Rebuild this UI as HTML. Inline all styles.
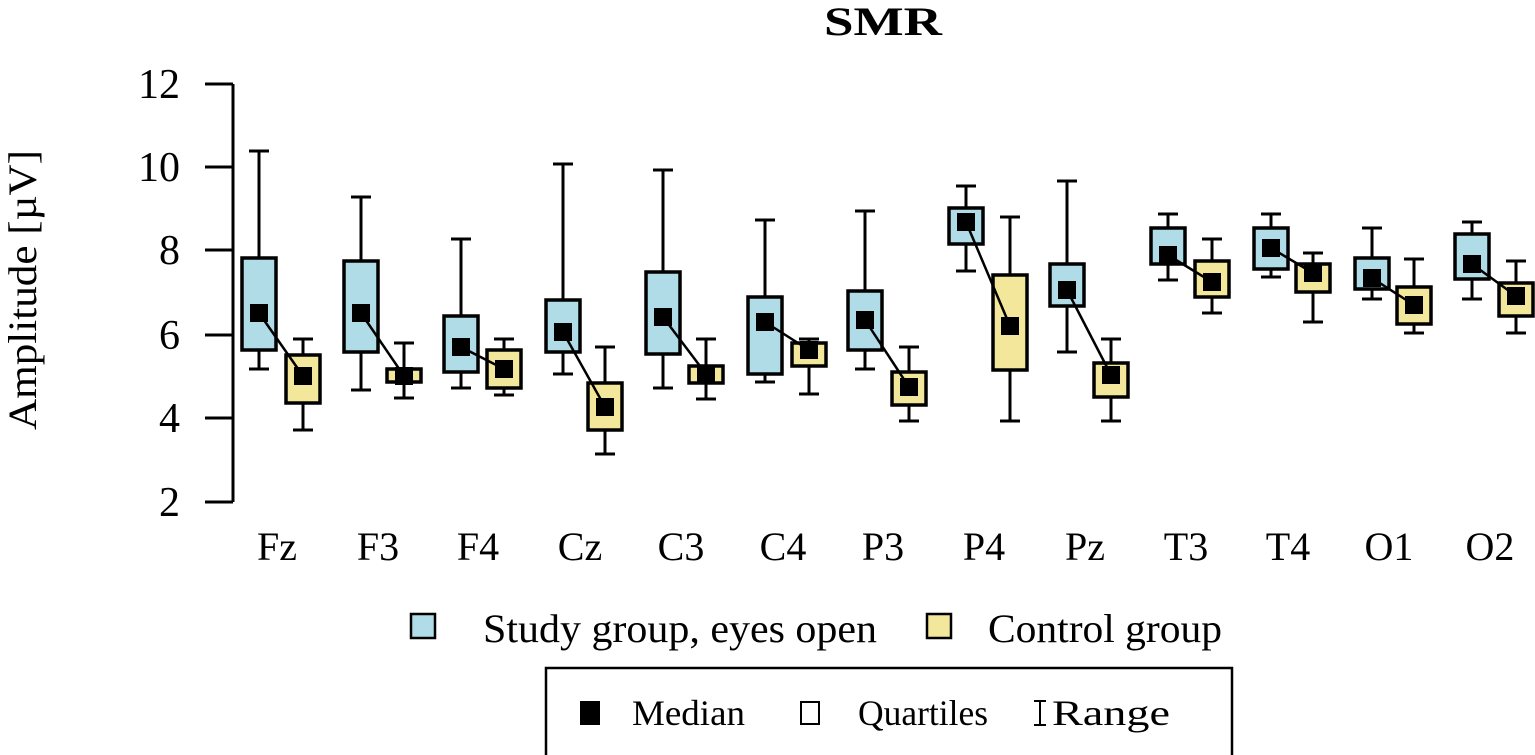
<!DOCTYPE html>
<html><head><meta charset="utf-8"><style>
html,body{margin:0;padding:0;background:#fff;}
svg{display:block;font-family:"Liberation Serif",serif;}
</style></head><body>
<svg width="1535" height="755" viewBox="0 0 1535 755" xmlns="http://www.w3.org/2000/svg">
<text x="883" y="35" font-size="40" font-weight="bold" text-anchor="middle" textLength="118" lengthAdjust="spacingAndGlyphs">SMR</text>
<g stroke="#000" stroke-width="3" fill="none">
<path d="M233 84V502M205 84H233M205 167H233M205 250H233M205 335H233M205 418H233M205 502H233"/>
</g>
<g font-size="42" text-anchor="end">
<text x="180" y="98">12</text><text x="180" y="181">10</text><text x="180" y="264">8</text>
<text x="180" y="349">6</text><text x="180" y="432">4</text><text x="180" y="516">2</text>
</g>
<text transform="translate(36,290) rotate(-90)" font-size="40" text-anchor="middle" textLength="280" lengthAdjust="spacingAndGlyphs">Amplitude [µV]</text>

<g stroke="#000" stroke-width="3" fill="none">
<path d="M259 151V369M249 151H269M249 369H269 M303 339V430M293 339H313M293 430H313"/>
<path d="M361 197V390M351 197H371M351 390H371 M404 343V398M394 343H414M394 398H414"/>
<path d="M461 239V388M451 239H471M451 388H471 M504 339V395M494 339H514M494 395H514"/>
<path d="M563 164V374M553 164H573M553 374H573 M605 347V454M595 347H615M595 454H615"/>
<path d="M663 170V388M653 170H673M653 388H673 M706 339V399M696 339H716M696 399H716"/>
<path d="M765 220V382M755 220H775M755 382H775 M809 339V394M799 339H819M799 394H819"/>
<path d="M865 211V369M855 211H875M855 369H875 M909 347V421M899 347H919M899 421H919"/>
<path d="M966 186V271M956 186H976M956 271H976 M1010 217V421M1000 217H1020M1000 421H1020"/>
<path d="M1067 181V352M1057 181H1077M1057 352H1077 M1111 339V421M1101 339H1121M1101 421H1121"/>
<path d="M1168 214V280M1158 214H1178M1158 280H1178 M1212 239V313M1202 239H1222M1202 313H1222"/>
<path d="M1271 214V277M1261 214H1281M1261 277H1281 M1313 253V322M1303 253H1323M1303 322H1323"/>
<path d="M1372 228V299M1362 228H1382M1362 299H1382 M1414 259V333M1404 259H1424M1404 333H1424"/>
<path d="M1472 222V299M1462 222H1482M1462 299H1482 M1516 261V333M1506 261H1526M1506 333H1526"/>
</g>
<g stroke="#000" stroke-width="3.5" fill="#b0dce8">
<rect x="242" y="258" width="34" height="92"/>
<rect x="344" y="261" width="34" height="91"/>
<rect x="444" y="316" width="34" height="56"/>
<rect x="546" y="300" width="34" height="52"/>
<rect x="646" y="272" width="34" height="82"/>
<rect x="748" y="297" width="34" height="77"/>
<rect x="848" y="291" width="34" height="59"/>
<rect x="949" y="208" width="34" height="36"/>
<rect x="1050" y="264" width="34" height="42"/>
<rect x="1151" y="228" width="34" height="36"/>
<rect x="1254" y="228" width="34" height="41"/>
<rect x="1355" y="258" width="34" height="31"/>
<rect x="1455" y="234" width="34" height="45"/>
</g>
<g stroke="#000" stroke-width="3.5" fill="#f3e79c">
<rect x="286" y="355" width="34" height="48"/>
<rect x="387" y="369" width="34" height="13"/>
<rect x="487" y="350" width="34" height="38"/>
<rect x="588" y="383" width="34" height="47"/>
<rect x="689" y="366" width="34" height="17"/>
<rect x="792" y="343" width="34" height="23"/>
<rect x="892" y="372" width="34" height="33"/>
<rect x="993" y="275" width="34" height="95"/>
<rect x="1094" y="363" width="34" height="34"/>
<rect x="1195" y="261" width="34" height="36"/>
<rect x="1296" y="264" width="34" height="28"/>
<rect x="1397" y="287" width="34" height="37"/>
<rect x="1499" y="283" width="34" height="33"/>
</g>
<g stroke="#000" stroke-width="2.5">
<line x1="259" y1="313" x2="303" y2="376"/>
<line x1="361" y1="313" x2="404" y2="376"/>
<line x1="461" y1="347" x2="504" y2="369"/>
<line x1="563" y1="332" x2="605" y2="407"/>
<line x1="663" y1="317" x2="706" y2="374"/>
<line x1="765" y1="322" x2="809" y2="350"/>
<line x1="865" y1="320" x2="909" y2="387"/>
<line x1="966" y1="222" x2="1010" y2="326"/>
<line x1="1067" y1="290" x2="1111" y2="375"/>
<line x1="1168" y1="255" x2="1212" y2="282"/>
<line x1="1271" y1="248" x2="1313" y2="273"/>
<line x1="1372" y1="278" x2="1414" y2="305"/>
<line x1="1472" y1="264" x2="1516" y2="296"/>
</g>
<g fill="#000">
<rect x="250" y="304" width="18" height="18"/><rect x="294" y="367" width="18" height="18"/>
<rect x="352" y="304" width="18" height="18"/><rect x="395" y="367" width="18" height="18"/>
<rect x="452" y="338" width="18" height="18"/><rect x="495" y="360" width="18" height="18"/>
<rect x="554" y="323" width="18" height="18"/><rect x="596" y="398" width="18" height="18"/>
<rect x="654" y="308" width="18" height="18"/><rect x="697" y="365" width="18" height="18"/>
<rect x="756" y="313" width="18" height="18"/><rect x="800" y="341" width="18" height="18"/>
<rect x="856" y="311" width="18" height="18"/><rect x="900" y="378" width="18" height="18"/>
<rect x="957" y="213" width="18" height="18"/><rect x="1001" y="317" width="18" height="18"/>
<rect x="1058" y="281" width="18" height="18"/><rect x="1102" y="366" width="18" height="18"/>
<rect x="1159" y="246" width="18" height="18"/><rect x="1203" y="273" width="18" height="18"/>
<rect x="1262" y="239" width="18" height="18"/><rect x="1304" y="264" width="18" height="18"/>
<rect x="1363" y="269" width="18" height="18"/><rect x="1405" y="296" width="18" height="18"/>
<rect x="1463" y="255" width="18" height="18"/><rect x="1507" y="287" width="18" height="18"/>
</g>
<g font-size="40" text-anchor="middle">
<text x="277" y="560">Fz</text><text x="378" y="560">F3</text><text x="478" y="560">F4</text>
<text x="580" y="560">Cz</text><text x="681" y="560">C3</text><text x="783" y="560">C4</text>
<text x="883" y="560">P3</text><text x="984" y="560">P4</text><text x="1085" y="560">Pz</text>
<text x="1186" y="560">T3</text><text x="1288" y="560">T4</text><text x="1389" y="560">O1</text>
<text x="1490" y="560">O2</text>
</g>
<rect x="411" y="614" width="24" height="24" fill="#b0dce8" stroke="#000" stroke-width="2.5"/>
<text x="483" y="642" font-size="40" textLength="394" lengthAdjust="spacingAndGlyphs">Study group, eyes open</text>
<rect x="927" y="614" width="24" height="24" fill="#f3e79c" stroke="#000" stroke-width="2.5"/>
<text x="988" y="642" font-size="40" textLength="234" lengthAdjust="spacingAndGlyphs">Control group</text>
<rect x="546" y="668" width="686" height="92" fill="none" stroke="#000" stroke-width="2.5"/>
<rect x="580" y="701" width="20" height="24" fill="#000"/>
<text x="632" y="725" font-size="36" textLength="113" lengthAdjust="spacingAndGlyphs">Median</text>
<rect x="801" y="702" width="18" height="22" fill="#fff" stroke="#000" stroke-width="2"/>
<text x="858" y="725" font-size="36" textLength="130" lengthAdjust="spacingAndGlyphs">Quartiles</text>
<path d="M1034 701H1046M1040 701V725M1034 725H1046" stroke="#000" stroke-width="2" fill="none"/>
<text x="1052" y="725" font-size="36" textLength="118" lengthAdjust="spacingAndGlyphs">Range</text>
</svg>
</body></html>
